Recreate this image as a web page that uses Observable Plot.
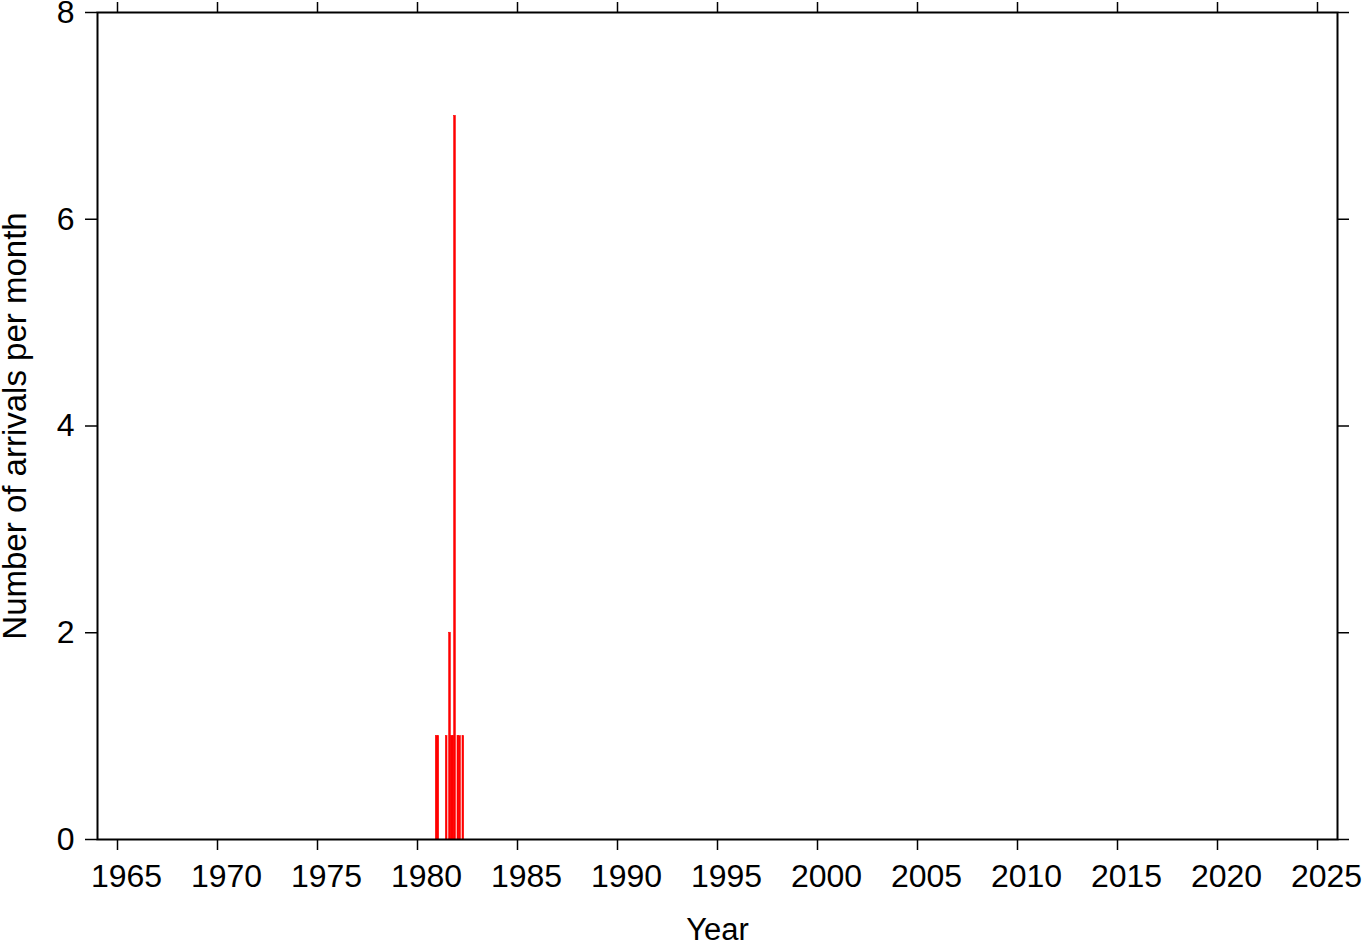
<!DOCTYPE html>
<html>
<head>
<meta charset="utf-8">
<script src="https://cdn.jsdelivr.net/npm/d3@7"></script>
<script src="https://cdn.jsdelivr.net/npm/@observablehq/plot@0.6"></script>
<style>
  html, body { margin: 0; padding: 0; background: #fff; }
  svg { display: block; }
</style>
</head>
<body>
<div id="chart"></div>
<script>
// Monthly arrival counts (year-month)
const months = ["1980-12", "1981-01", "1981-06", "1981-08", "1981-09", "1981-10", "1981-11", "1982-01", "1982-02", "1982-04"];
const counts = [1, 1, 1, 2, 1, 1, 7, 1, 1, 1];
const xTicks = [1965, 1970, 1975, 1980, 1985, 1990, 1995, 2000, 2005, 2010, 2015, 2020, 2025];
const yTicks = [0, 2, 4, 6, 8];

const data = months.map((m, i) => {
  const [y, mo] = m.split("-").map(Number);
  const start = y + (mo - 1) / 12;
  return {x1: start, x2: start + 1 / 12, count: counts[i]};
});

const font = "'Liberation Sans', Arial, Helvetica, sans-serif";

const chart = Plot.plot({
  width: 1363,
  height: 942,
  marginLeft: 97,
  marginRight: 26,
  marginTop: 12,
  marginBottom: 103,
  style: {fontFamily: font, fontSize: "32px", color: "#000", background: "#fff", overflow: "visible"},
  x: {domain: [1964, 2026]},
  y: {domain: [0, 8]},
  marks: [
    Plot.rectY(data, {x1: "x1", x2: "x2", y: "count", fill: "#ff0000", stroke: "#ff0000", strokeWidth: 0.6}),
    // bottom tick marks
    Plot.axisX({anchor: "bottom", ticks: xTicks, tickFormat: () => "", tickSize: 11, strokeWidth: 1.5, label: null}),
    // bottom tick labels (shifted slightly right as in the reference)
    Plot.axisX({anchor: "bottom", ticks: xTicks, tickFormat: d => String(d), tickSize: 0, tickPadding: 25,
      fontSize: 32, dx: 9, label: null}),
    Plot.axisX({anchor: "bottom", ticks: [], label: "Year", labelAnchor: "center", labelArrow: "none", labelOffset: 100, fontSize: 31}),
    Plot.axisX({anchor: "top", ticks: xTicks, tickFormat: () => "", tickSize: 11, strokeWidth: 1.5, label: null}),
    Plot.axisY({anchor: "left", ticks: yTicks, tickFormat: d => String(d), tickSize: 12, tickPadding: 11, strokeWidth: 1.5,
      fontSize: 32, label: null}),
    Plot.axisY({anchor: "left", ticks: [], label: "Number of arrivals per month", labelAnchor: "center", labelArrow: "none", labelOffset: 95, fontSize: 33}),
    Plot.axisY({anchor: "right", ticks: yTicks, tickFormat: () => "", tickSize: 11, strokeWidth: 1.5, label: null}),
    Plot.frame({stroke: "#000", strokeWidth: 2})
  ]
});
document.getElementById("chart").appendChild(chart);
</script>
</body>
</html>
